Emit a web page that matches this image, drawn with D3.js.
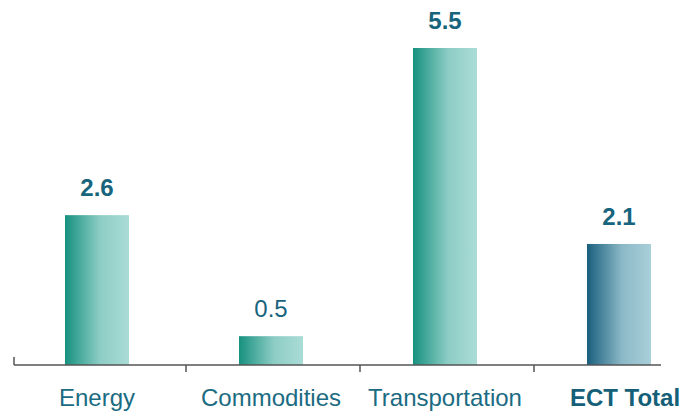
<!DOCTYPE html>
<html>
<head>
<meta charset="utf-8">
<script src="https://cdn.jsdelivr.net/npm/d3@7"></script>
<style>
  body { margin: 0; background: #fff; }
  svg { display: block; font-family: "Liberation Sans", Arial, sans-serif; }
</style>
</head>
<body>
<div id="chart"></div>
<script>
// chart data
const categories = ["Energy", "Commodities", "Transportation", "ECT Total"];
const values = [2.6, 0.5, 5.5, 2.1];
const valueLabels = ["2.6", "0.5", "5.5", "2.1"];
const boldValue = [true, false, true, true];
const boldCategory = [false, false, false, true];

var width = 686, height = 412;

var x = d3.scaleBand().domain(categories).range([10, 706]).paddingInner(0).paddingOuter(0);
var y = d3.scaleLinear().domain([0, 5.5]).range([365, 48]);

var barWidth = 64;

var svg = d3.select("#chart").append("svg")
    .attr("width", width)
    .attr("height", height);

var defs = svg.append("defs");

// teal gradient for the segments, blue one for the total
function addGradient(id, from, to) {
    var g = defs.append("linearGradient").attr("id", id)
        .attr("x1", "0%").attr("x2", "100%").attr("y1", "0%").attr("y2", "0%");
    g.append("stop").attr("offset", "0%").attr("stop-color", from);
    g.append("stop").attr("offset", "55%").attr("stop-color", d3.interpolateRgb(from, to)(0.8));
    g.append("stop").attr("offset", "100%").attr("stop-color", to);
}
addGradient("gradTeal", "#17917f", "#aadcd6");
addGradient("gradBlue", "#1a5f7e", "#a9cfd9");

var data = categories.map((c, i) => ({ cat: c, value: values[i], label: valueLabels[i], bold: boldValue[i], catBold: boldCategory[i] }));

// bars
svg.selectAll("rect.bar")
    .data(data)
    .enter()
    .append("rect")
    .attr("class", "bar")
    .attr("x", d => x(d.cat) + x.bandwidth() / 2 - barWidth / 2)
    .attr("y", d => y(d.value))
    .attr("width", barWidth)
    .attr("height", d => y(0) - y(d.value))
    .attr("fill", d => d.cat == "ECT Total" ? "url(#gradBlue)" : "url(#gradTeal)");

// value labels above bars
svg.selectAll("text.value")
    .data(data)
    .enter()
    .append("text")
    .attr("class", "value")
    .attr("x", d => x(d.cat) + x.bandwidth() / 2)
    .attr("y", d => y(d.value) - 19)
    .attr("text-anchor", "middle")
    .style("font-size", "24px")
    .style("font-weight", d => d.bold ? "bold" : "normal")
    .style("fill", "#17647c")
    .text(d => d.label);

// axis line and ticks
var axis = svg.append("g").attr("stroke", "#555").attr("stroke-width", 1.5);
axis.append("line")
    .attr("x1", 14).attr("x2", 661)
    .attr("y1", y(0)).attr("y2", y(0));
axis.append("line")
    .attr("x1", 14).attr("x2", 14)
    .attr("y1", y(0) - 8).attr("y2", y(0));
categories.slice(1).forEach(c => {
    var tx = x(c) + 2;
    axis.append("line")
        .attr("x1", tx).attr("x2", tx)
        .attr("y1", y(0)).attr("y2", y(0) + 7);
});

// category labels
svg.selectAll("text.cat")
    .data(data)
    .enter()
    .append("text")
    .attr("class", "cat")
    .attr("x", d => x(d.cat) + x.bandwidth() / 2 + (d.catBold ? 6 : 0))
    .attr("y", 406)
    .attr("text-anchor", "middle")
    .style("font-size", "24px")
    .style("font-weight", d => d.catBold ? "bold" : "normal")
    .style("fill", d => d.catBold ? "#155f78" : "#1b6b82")
    .text(d => d.cat);
</script>
</body>
</html>
